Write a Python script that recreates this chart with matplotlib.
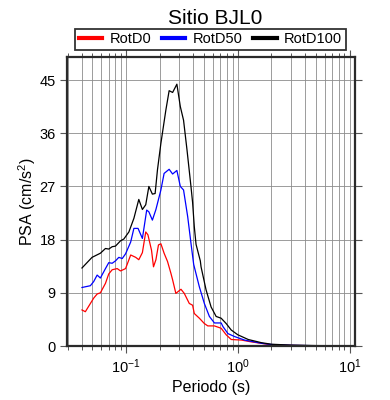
import matplotlib
matplotlib.use("Agg")
import matplotlib.pyplot as plt
from matplotlib.ticker import LogLocator, NullFormatter, FixedLocator

plt.rcParams['font.family'] = ['Liberation Sans', 'DejaVu Sans']
plt.rcParams['mathtext.fontset'] = 'custom'
plt.rcParams['mathtext.rm'] = 'Liberation Sans'
plt.rcParams['mathtext.it'] = 'Liberation Sans:italic'

title = "Sitio BJL0"
xlabel = "Periodo (s)"
ylabel = r"PSA (cm/s$^{\mathregular{2}}$)"
yticks = [0, 9, 18, 27, 36, 45]

labels = ["RotD0", "RotD50", "RotD100"]
colors = ["#ff0000", "#0000ff", "#000000"]

T_d0 = [0.0403, 0.0432, 0.0462, 0.0513, 0.0551, 0.0589, 0.0654, 0.070, 0.0751, 0.0833,
        0.0892, 0.099, 0.110, 0.122, 0.130, 0.140, 0.150, 0.157, 0.169, 0.176,
        0.185, 0.195, 0.205, 0.219, 0.235, 0.252, 0.261, 0.279, 0.310, 0.332,
        0.368, 0.394, 0.408, 0.453, 0.502, 0.539, 0.618, 0.710, 0.787, 0.874,
        1.08, 1.32, 2.0, 3.0, 5.0, 10.0]
psa_d0 = [6.1, 5.8, 6.7, 8.1, 8.8, 9.0, 10.6, 12.2, 12.9, 13.1,
          12.7, 13.1, 15.4, 15.0, 14.6, 15.8, 19.3, 18.8, 16.2, 13.4,
          14.6, 17.1, 17.3, 15.7, 14.3, 12.3, 11.2, 8.9, 9.6, 8.9,
          7.2, 6.9, 5.5, 4.7, 3.8, 3.4, 3.4, 3.0, 1.9, 1.1,
          1.0, 0.7, 0.2, 0.1, 0.04, 0.02]

T_d50 = [0.0403, 0.0479, 0.0513, 0.0551, 0.0589, 0.0654, 0.070, 0.0751, 0.0804, 0.0861,
         0.0924, 0.099, 0.110, 0.1175, 0.128, 0.140, 0.153, 0.160, 0.172, 0.185,
         0.205, 0.219, 0.243, 0.261, 0.285, 0.306, 0.327, 0.356, 0.381, 0.403,
         0.453, 0.502, 0.557, 0.618, 0.710, 0.736, 0.816, 0.936, 1.15, 1.63,
         2.0, 3.0, 5.0, 10.0]
psa_d50 = [9.9, 10.2, 10.9, 12.0, 11.5, 13.1, 14.1, 14.0, 14.4, 15.0,
           14.8, 15.6, 17.6, 19.9, 19.9, 18.2, 23.0, 22.7, 21.3, 23.1,
           26.4, 29.2, 29.9, 29.1, 29.7, 27.0, 26.4, 21.9, 17.4, 13.8,
           10.0, 7.2, 5.0, 3.9, 3.9, 3.3, 2.1, 1.6, 1.0, 0.46,
           0.25, 0.12, 0.05, 0.02]

T_d100 = [0.0403, 0.0496, 0.0589, 0.0654, 0.070, 0.0751, 0.0804, 0.0892, 0.0955, 0.106,
          0.1175, 0.130, 0.140, 0.150, 0.160, 0.172, 0.182, 0.191, 0.205, 0.227,
          0.243, 0.261, 0.285, 0.306, 0.327, 0.351, 0.381, 0.394, 0.408, 0.423,
          0.462, 0.469, 0.520, 0.577, 0.640, 0.710, 0.787, 0.874, 1.0, 1.24,
          1.63, 2.0, 3.0, 5.0, 10.0]
psa_d100 = [13.2, 15.0, 15.7, 16.5, 16.4, 16.8, 16.9, 17.8, 18.1, 19.3,
            21.6, 24.8, 23.1, 23.9, 27.0, 25.7, 25.8, 29.8, 34.3, 39.9,
            43.2, 42.9, 44.3, 40.5, 38.2, 33.2, 27.0, 24.3, 20.2, 17.2,
            14.4, 13.4, 9.5, 6.6, 5.0, 4.7, 3.8, 2.7, 1.9, 1.1,
            0.56, 0.3, 0.15, 0.07, 0.03]

fig = plt.figure(figsize=(3.9, 4.0), dpi=100)
ax = fig.add_axes([67/390, 54/400, 288/390, 289/400])

series = [(T_d0, psa_d0), (T_d50, psa_d50), (T_d100, psa_d100)]
for (t, p), lab, c in zip(series, labels, colors):
    ax.plot(t, p, color=c, lw=0.9, label=lab, zorder=3)

ax.set_xscale('log')
ax.set_xlim(0.0296, 11.2)
ax.set_ylim(0, 48.9)
ax.yaxis.set_major_locator(FixedLocator(yticks))
ax.xaxis.set_major_locator(LogLocator(base=10, numticks=10))
ax.xaxis.set_minor_locator(LogLocator(base=10, subs=range(2, 10), numticks=20))
ax.xaxis.set_minor_formatter(NullFormatter())

ax.grid(True, which='both', axis='x', color='#8c8c8c', lw=0.6)
ax.grid(True, which='major', axis='y', color='#8c8c8c', lw=0.6)
ax.set_axisbelow(True)

for s in ax.spines.values():
    s.set_linewidth(1.6)
    s.set_color('#2a2a2a')
    s.set_zorder(4)

ax.tick_params(which='major', direction='out', length=5, width=0.8, color='#555555',
               top=True, right=True, labelsize=10.5, pad=3)
ax.tick_params(which='minor', direction='out', length=3, width=0.7, color='#555555',
               top=True, right=True)

ax.set_xlabel(xlabel, fontsize=11.5, labelpad=3)
ax.set_ylabel(ylabel, fontsize=11.5)
ax.yaxis.set_label_coords(-0.1, 0.5)
fig.text(0.5 * (67 + 355) / 390 + 0.01, 1 - 19 / 400, title, fontsize=15,
         ha='center', va='center')

leg = ax.legend(loc='lower center', bbox_to_anchor=(0.498, 1.024), ncol=3,
                fontsize=10.5, frameon=True, fancybox=False, handlelength=1.6,
                handletextpad=0.5, columnspacing=0.75, borderpad=0.25,
                borderaxespad=0)
leg.get_frame().set_edgecolor('black')
leg.get_frame().set_linewidth(1.3)
for line in leg.get_lines():
    line.set_linewidth(3)

fig.savefig("out.png", dpi=100)
